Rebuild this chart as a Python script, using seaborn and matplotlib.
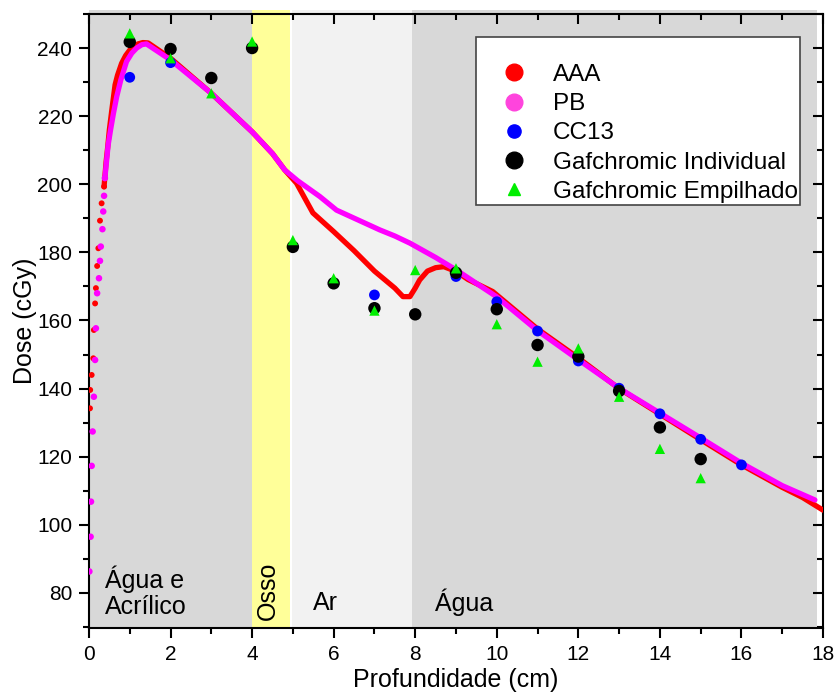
import numpy as np
import pandas as pd
import matplotlib.pyplot as plt
import seaborn as sb
from matplotlib.lines import Line2D
from matplotlib.ticker import MultipleLocator

# build-up region: separate dots (cm, cGy)
aaa_rise_x = [0.025, 0.03, 0.066, 0.106, 0.12, 0.15, 0.17, 0.2, 0.23, 0.27, 0.31, 0.37]
aaa_rise_y = [134.2, 139.6, 144.0, 148.9, 157.2, 165.0, 169.5, 176.0, 181.2, 189.3, 194.4, 199.3]

pb_rise_x = [0.01, 0.04, 0.05, 0.066, 0.09, 0.12, 0.15, 0.17, 0.2, 0.245, 0.27, 0.29, 0.33, 0.35, 0.37, 0.39]
pb_rise_y = [86.3, 96.5, 106.8, 117.3, 127.4, 137.6, 148.4, 157.7, 168.0, 172.4, 177.5, 181.7, 186.8, 192.0, 196.6, 201.8]

# continuous part of the curves
aaa_x = [0.37, 0.42, 0.46, 0.5, 0.56, 0.64, 0.7, 0.8, 0.9, 1.0, 1.1, 1.2, 1.32, 1.45, 2.0, 3.0, 4.0, 4.5, 4.8, 5.09,
         5.49, 6.0, 6.5, 7.0, 7.5, 7.7, 7.87, 8.0, 8.11, 8.3, 8.5, 8.7, 9.0, 9.3, 9.9, 11.0, 12.0, 13.0, 14.0, 15.0,
         16.0, 17.0, 17.5, 18.0]
aaa_y = [199.3, 206.6, 211.0, 216.0, 221.8, 229.2, 232.0, 235.5, 237.8, 239.4, 240.5, 241.2, 241.6, 241.5, 237.0,
         226.7, 215.4, 209.0, 204.2, 200.3, 191.6, 186.1, 180.5, 174.5, 169.5, 167.0, 167.0, 169.5, 171.9, 174.5,
         175.5, 175.8, 174.4, 172.0, 168.5, 157.5, 149.0, 140.0, 132.5, 125.0, 117.6, 111.0, 108.0, 104.3]

pb_x = [0.39, 0.43, 0.47, 0.53, 0.6, 0.68, 0.78, 0.92, 1.05, 1.17, 1.3, 1.41, 2.0, 3.0, 4.0, 4.5, 4.8, 5.12, 5.66,
        6.07, 6.6, 7.13, 7.5, 7.87, 8.5, 9.01, 9.99, 11.0, 11.95, 13.0, 14.0, 15.0, 16.0, 17.0, 17.8]
pb_y = [201.8, 206.6, 211.5, 216.0, 220.8, 225.7, 230.6, 236.0, 238.5, 240.0, 241.0, 241.2, 236.5, 226.7, 215.4,
        209.0, 204.2, 201.0, 196.4, 192.4, 189.5, 186.6, 184.8, 182.7, 178.5, 174.8, 167.0, 157.0, 148.9, 140.1,
        132.8, 125.5, 118.1, 111.5, 107.3]

# measured points
cc13_x = [1, 2, 7, 9, 10, 11, 12, 13, 14, 15, 16]
cc13_y = [231.4, 235.7, 167.5, 172.9, 165.5, 156.9, 148.1, 140.1, 132.6, 125.1, 117.6]

ind_x = [1, 2, 3, 4, 5, 6, 7, 8, 9, 10, 11, 12, 13, 14, 15]
ind_y = [241.8, 239.7, 231.2, 240.0, 181.6, 170.9, 163.6, 161.8, 174.0, 163.3, 152.8, 149.4, 139.3, 128.6, 119.3]

emp_x = [1, 2, 3, 4, 5, 6, 7, 8, 9, 10, 11, 12, 13, 14, 15]
emp_y = [244.3, 237.0, 226.7, 241.9, 183.6, 172.4, 162.9, 174.8, 175.3, 158.9, 147.9, 151.8, 137.6, 122.3, 113.7]

aaa = pd.DataFrame({"x": aaa_x, "y": aaa_y})
pb = pd.DataFrame({"x": pb_x, "y": pb_y})

sb.set_theme(style="ticks")
plt.rcParams["font.family"] = ["Liberation Sans", "DejaVu Sans"]
for k in ["text.color", "axes.labelcolor", "xtick.color", "ytick.color", "axes.edgecolor"]:
    plt.rcParams[k] = "black"

fig = plt.figure(figsize=(8.37, 6.98), dpi=100)
ax = fig.add_axes([0.1063, 0.1003, 0.877, 0.8797])

# material regions (slightly over the top frame, like the original)
spans = [(0, 4.0, "#d8d8d8"), (4.0, 4.93, "#ffff99"), (4.97, 7.92, "#f2f2f2"), (7.92, 17.85, "#d8d8d8")]
for a, b, c in spans:
    ax.axvspan(a, b, ymax=1.0065, color=c, lw=0, zorder=0, clip_on=False)

sb.scatterplot(x=aaa_rise_x, y=aaa_rise_y, color="#ff0000", s=18, marker="o", edgecolor="none", ax=ax, zorder=3)
sb.scatterplot(x=pb_rise_x, y=pb_rise_y, color="#ff00ff", s=22, marker="o", edgecolor="none", ax=ax, zorder=4)
sb.lineplot(data=aaa, x="x", y="y", color="#ff0000", lw=3.8, ax=ax, zorder=3, sort=False)
sb.lineplot(data=pb, x="x", y="y", color="#ff00ff", lw=3.8, ax=ax, zorder=4, sort=False)

sb.scatterplot(x=cc13_x, y=cc13_y, color="#0000ff", s=60, marker="o", edgecolor="none", ax=ax, zorder=5)
sb.scatterplot(x=ind_x, y=ind_y, color="black", s=80, marker="o", edgecolor="none", ax=ax, zorder=6)
sb.scatterplot(x=emp_x, y=emp_y, color="#00ee00", s=55, marker="^", edgecolor="none", ax=ax, zorder=7)

ax.set_xlim(0, 18)
ax.set_ylim(69.7, 250)
ax.xaxis.set_major_locator(MultipleLocator(2))
ax.xaxis.set_minor_locator(MultipleLocator(1))
ax.yaxis.set_major_locator(MultipleLocator(20))
ax.yaxis.set_minor_locator(MultipleLocator(10))
ax.tick_params(which="both", width=1.5, labelsize=15, pad=5)
ax.tick_params(which="both", bottom=True, left=True, direction="out")
ax.tick_params(which="major", length=7)
ax.tick_params(which="minor", length=4)
ax.tick_params(which="both", top=True, right=True, labeltop=False, labelright=False)
for t in ax.xaxis.get_ticklines(minor=False)[1::2] + ax.xaxis.get_ticklines(minor=True)[1::2]:
    t.set_marker(3)  # top ticks point inward
for t in ax.yaxis.get_ticklines(minor=False)[1::2] + ax.yaxis.get_ticklines(minor=True)[1::2]:
    t.set_marker(0)  # right ticks point inward
for s in ax.spines.values():
    s.set_linewidth(1.5)

ax.set_xlabel("Profundidade (cm)", fontsize=18, labelpad=3)
ax.set_ylabel("Dose (cGy)", fontsize=18, labelpad=0)

ax.text(0.39, 80.2, "Água e\nAcrílico", fontsize=18, va="center", ha="left", linespacing=1.15)
ax.text(4.38, 80.5, "Osso", fontsize=18, rotation=90, va="center", ha="center")
ax.text(5.5, 77.0, "Ar", fontsize=18, va="center", ha="left")
ax.text(8.48, 77.4, "Água", fontsize=18, va="center", ha="left")

handles = [
    Line2D([], [], ls="", marker="o", ms=12, color="#ff0000"),
    Line2D([], [], ls="", marker="o", ms=12, color="#ff44dd"),
    Line2D([], [], ls="", marker="o", ms=9.5, color="#0000ff"),
    Line2D([], [], ls="", marker="o", ms=12, color="black"),
    Line2D([], [], ls="", marker="^", ms=8, color="#00ee00"),
]
labels = ["AAA", "PB", "CC13", "Gafchromic Individual", "Gafchromic Empilhado"]
leg = ax.legend(handles, labels, loc="upper right", bbox_to_anchor=(0.9687, 0.9625), fontsize=17.5,
                title=" ", title_fontsize=14, fancybox=False, framealpha=1, edgecolor="#444444",
                labelspacing=0.3, handletextpad=0.15, borderpad=0.1, borderaxespad=0, handlelength=2.9)
leg.get_frame().set_linewidth(1.2)

plt.savefig("out.png", dpi=100)
